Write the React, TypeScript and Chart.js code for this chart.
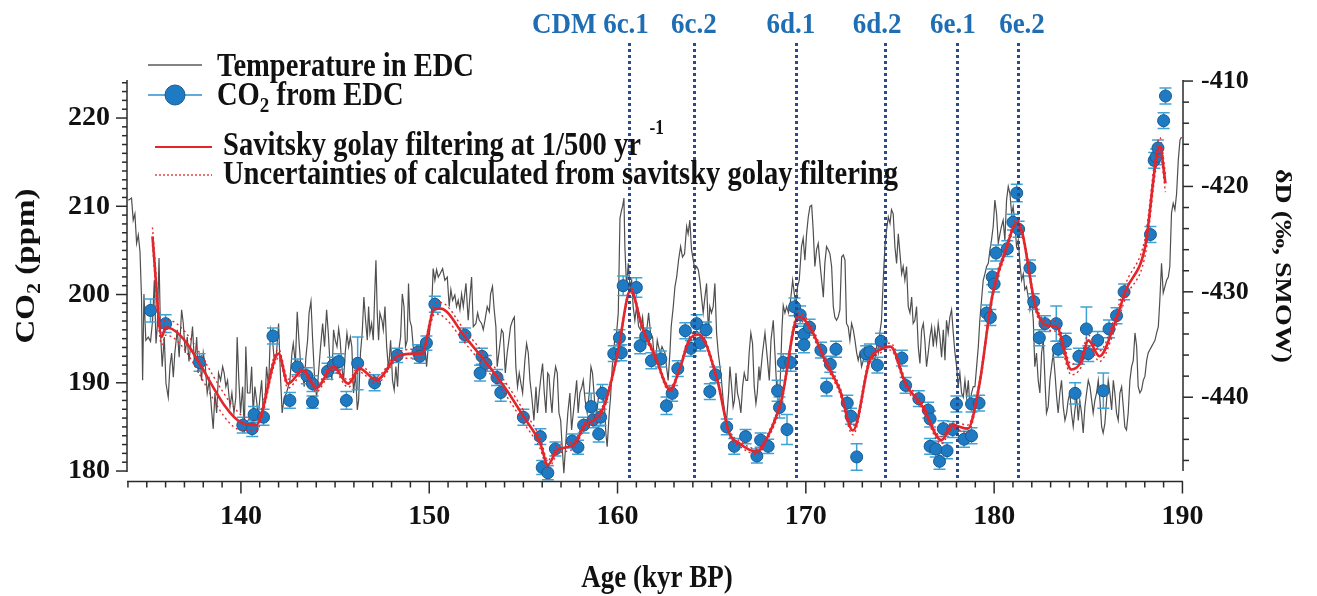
import React, { useEffect, useRef } from 'react';
import { Chart, registerables } from 'chart.js';

Chart.register(...registerables);

// ---------- DATA ----------
// Temperature proxy (deltaD, permil SMOW) from EDC: [age kyr BP, dD]
const TEMP_SERIES: [number, number][] = [
  [134.02,-421.3],[134.19,-421.1],[134.28,-423.2],[134.37,-422.6],[134.46,-425.4],[134.55,-424.6],[134.64,-426.2],[134.72,-430.5],[134.78,-438.4],[134.85,-430.2],
  [134.95,-434.6],[135.08,-434.3],[135.2,-434.7],[135.31,-432.7],[135.4,-428.9],[135.49,-434.9],[135.56,-433.3],[135.65,-426.8],[135.73,-433.9],[135.82,-437.1],
  [135.93,-434.3],[136.02,-438.7],[136.14,-440.0],[136.23,-437.1],[136.32,-435.8],[136.41,-438.1],[136.49,-435.8],[136.62,-433.6],[136.72,-436.2],[136.85,-431.7],
  [136.94,-433.0],[137.04,-435.8],[137.15,-434.3],[137.24,-436.6],[137.33,-435.2],[137.43,-433.3],[137.54,-437.1],[137.65,-434.3],[137.73,-437.7],[137.82,-436.2],
  [137.91,-438.4],[138.0,-435.8],[138.11,-437.1],[138.21,-439.6],[138.32,-438.4],[138.44,-441.2],[138.53,-443.0],[138.62,-439.6],[138.71,-441.5],[138.81,-437.7],
  [138.92,-438.4],[139.03,-437.1],[139.11,-437.7],[139.2,-439.0],[139.29,-438.4],[139.42,-440.9],[139.52,-439.6],[139.63,-441.5],[139.73,-440.0],[139.8,-434.3],
  [139.89,-438.4],[139.98,-441.5],[140.09,-439.0],[140.18,-443.4],[140.26,-435.2],[140.35,-439.6],[140.48,-439.6],[140.57,-437.1],[140.65,-441.5],[140.74,-439.0],
  [140.83,-440.3],[140.92,-441.9],[141.01,-440.0],[141.1,-438.4],[141.19,-441.5],[141.29,-440.0],[141.36,-437.1],[141.47,-439.0],[141.57,-433.6],[141.68,-434.6],
  [141.77,-436.5],[141.89,-435.8],[142.0,-433.0],[142.11,-438.4],[142.19,-441.5],[142.3,-440.0],[142.42,-439.6],[142.51,-439.0],[142.6,-438.4],[142.71,-435.8],
  [142.78,-434.9],[142.89,-436.8],[142.99,-431.9],[143.08,-434.6],[143.17,-436.8],[143.27,-437.7],[143.36,-439.0],[143.45,-436.2],[143.54,-434.6],[143.62,-432.0],
  [143.72,-430.9],[143.81,-434.6],[143.91,-438.1],[144.02,-440.0],[144.12,-437.7],[144.23,-435.2],[144.34,-433.0],[144.44,-435.2],[144.55,-431.7],[144.64,-433.9],
  [144.74,-437.1],[144.83,-438.4],[144.92,-433.6],[145.01,-434.6],[145.1,-435.2],[145.19,-433.5],[145.27,-434.6],[145.36,-437.1],[145.45,-438.4],[145.54,-435.8],
  [145.63,-433.9],[145.72,-435.2],[145.81,-434.3],[145.89,-435.2],[145.98,-439.6],[146.09,-437.7],[146.18,-441.2],[146.25,-440.3],[146.35,-435.8],[146.44,-433.9],
  [146.53,-430.5],[146.62,-432.7],[146.71,-434.6],[146.78,-431.4],[146.85,-433.9],[146.94,-433.0],[147.03,-434.6],[147.1,-430.5],[147.17,-427.0],[147.24,-432.0],
  [147.31,-434.6],[147.38,-432.0],[147.49,-432.7],[147.56,-433.6],[147.65,-431.4],[147.74,-435.2],[147.84,-437.4],[147.95,-434.6],[148.05,-438.4],[148.14,-439.3],
  [148.23,-437.1],[148.32,-439.0],[148.41,-435.2],[148.48,-434.3],[148.57,-430.2],[148.66,-431.4],[148.74,-435.2],[148.83,-434.6],[148.9,-429.2],[148.97,-432.7],
  [149.06,-433.3],[149.15,-435.2],[149.24,-435.8],[149.33,-435.2],[149.42,-435.8],[149.51,-435.2],[149.61,-434.6],[149.68,-435.8],[149.77,-435.2],[149.86,-437.1],
  [149.95,-435.2],[150.04,-433.3],[150.12,-432.0],[150.21,-427.8],[150.3,-428.9],[150.39,-427.9],[150.48,-428.6],
  [150.57,-428.3],[150.71,-427.8],[150.83,-428.9],[150.96,-428.6],[151.06,-431.4],[151.15,-429.8],[151.24,-430.8],[151.36,-430.3],[151.45,-431.4],[151.54,-430.8],
  [151.63,-431.7],[151.72,-430.2],[151.81,-431.4],[151.95,-429.2],[152.07,-432.7],[152.16,-430.5],[152.25,-428.6],[152.34,-433.3],[152.48,-433.0],[152.57,-432.0],
  [152.66,-432.7],[152.78,-433.0],[152.87,-433.6],[152.96,-432.7],[153.08,-431.4],[153.19,-431.9],[153.26,-430.2],[153.36,-429.5],[153.45,-431.7],[153.54,-433.3],
  [153.61,-437.1],[153.72,-435.5],[153.84,-433.6],[153.93,-433.9],[154.04,-437.7],[154.14,-435.8],[154.23,-434.6],[154.32,-433.3],[154.43,-432.7],[154.52,-432.4],
  [154.6,-437.1],[154.69,-439.0],[154.78,-437.7],[154.87,-438.7],[154.96,-439.6],[155.08,-436.5],[155.17,-434.9],[155.26,-435.8],[155.35,-438.4],[155.45,-440.0],
  [155.56,-442.2],[155.67,-439.0],[155.75,-441.5],[155.84,-439.6],[155.93,-438.1],[156.02,-436.8],[156.11,-439.6],[156.2,-441.5],[156.29,-437.7],[156.36,-437.9],
  [156.44,-440.0],[156.52,-441.5],[156.62,-438.4],[156.71,-437.1],[156.8,-437.7],[156.89,-441.5],[156.98,-442.2],[157.06,-444.7],[157.15,-447.2],[157.26,-444.1],
  [157.36,-441.5],[157.47,-439.6],[157.56,-443.1],[157.65,-441.5],[157.74,-440.0],[157.83,-438.4],[157.91,-441.5],[158.0,-439.6],[158.11,-439.0],[158.18,-438.4],
  [158.28,-440.3],[158.39,-441.5],[158.5,-439.6],[158.59,-437.1],[158.67,-437.7],[158.78,-440.3],[158.89,-441.5],[158.99,-440.0],[159.1,-439.0],[159.21,-439.6],
  [159.31,-440.9],[159.38,-443.4],[159.45,-444.7],[159.56,-441.5],[159.63,-440.0],[159.72,-437.1],[159.77,-436.2],[159.86,-434.3],[159.95,-433.9],[160.04,-432.0],
  [160.13,-423.0],[160.22,-422.2],[160.27,-421.9],[160.34,-421.1],[160.39,-425.7],[160.48,-429.5],[160.57,-427.3],[160.66,-429.5],[160.75,-428.9],[160.83,-431.4],
  [160.92,-432.7],[161.01,-431.4],[161.12,-433.3],[161.22,-433.6],[161.33,-432.4],[161.44,-434.6],[161.54,-433.9],[161.65,-432.0],[161.75,-433.9],[161.86,-434.3],
  [161.93,-435.8],[162.04,-436.2],[162.11,-434.6],[162.18,-435.2],[162.27,-435.8],[162.36,-435.2],[162.43,-435.5],[162.52,-435.8],[162.6,-437.1],[162.69,-438.4],
  [162.78,-435.8],[162.85,-433.3],[162.96,-431.4],[163.05,-429.5],[163.14,-428.6],[163.24,-427.0],[163.35,-425.7],[163.45,-426.7],[163.56,-426.4],[163.67,-423.8],
  [163.75,-424.5],[163.84,-423.2],[163.93,-426.0],[164.02,-427.0],[164.11,-427.9],[164.2,-427.6],[164.29,-427.9],[164.37,-428.9],[164.46,-430.5],[164.55,-432.0],
  [164.64,-430.5],[164.73,-429.2],[164.83,-433.9],[164.9,-431.4],[164.99,-432.0],[165.08,-431.4],[165.17,-429.2],[165.26,-433.9],[165.35,-435.8],[165.44,-437.1],
  [165.52,-438.4],[165.61,-440.3],[165.7,-441.5],[165.79,-442.2],[165.9,-439.6],[165.97,-437.1],[166.06,-439.0],[166.14,-440.9],[166.21,-440.3],[166.29,-437.7],
  [166.37,-439.6],[166.46,-440.3],[166.55,-441.5],[166.64,-439.0],[166.73,-437.7],[166.82,-438.4],[166.91,-438.4],[166.99,-435.8],[167.08,-433.9],[167.17,-434.9],
  [167.26,-439.0],[167.35,-440.6],[167.42,-439.6],[167.51,-437.1],
  [167.56,-438.4],[167.7,-435.8],[167.83,-433.9],[167.95,-436.2],[168.06,-438.4],[168.15,-434.6],[168.27,-432.7],[168.36,-435.8],[168.45,-439.0],[168.54,-440.9],
  [168.62,-439.6],[168.73,-433.6],[168.8,-431.3],[168.89,-432.0],[168.98,-431.4],[169.08,-432.0],[169.19,-430.8],[169.3,-428.9],[169.39,-430.2],[169.47,-431.4],
  [169.56,-429.5],[169.65,-428.9],[169.77,-425.7],[169.86,-424.9],[169.95,-427.0],[170.04,-424.5],[170.13,-422.9],[170.22,-421.9],[170.31,-421.8],[170.39,-424.1],
  [170.48,-427.6],[170.57,-426.0],[170.66,-425.4],[170.75,-427.3],[170.84,-428.9],[170.93,-430.5],[171.01,-427.3],[171.1,-425.7],[171.19,-426.0],[171.28,-426.4],
  [171.37,-427.6],[171.46,-431.4],[171.54,-432.4],[171.63,-432.7],[171.72,-432.4],[171.81,-431.7],[171.9,-426.7],[171.99,-426.5],[172.08,-427.0],[172.16,-433.0],
  [172.25,-433.3],[172.34,-434.6],[172.43,-433.0],[172.52,-433.6],[172.61,-434.6],[172.7,-435.8],[172.78,-436.5],[172.87,-435.8],[172.96,-437.1],[173.05,-436.5],
  [173.14,-435.2],[173.23,-435.8],[173.31,-437.1],[173.4,-436.5],[173.49,-435.2],[173.58,-436.2],[173.67,-436.5],[173.76,-435.2],[173.85,-435.8],[173.93,-433.9],
  [174.02,-432.7],[174.11,-428.9],[174.2,-425.7],[174.29,-424.1],[174.38,-422.9],[174.47,-423.5],[174.55,-422.2],[174.64,-422.6],[174.73,-425.7],[174.82,-427.3],
  [174.91,-424.5],[175.0,-426.4],[175.09,-428.3],[175.17,-427.6],[175.26,-428.9],[175.35,-427.6],[175.44,-431.4],[175.53,-432.0],[175.62,-430.5],[175.7,-433.0],
  [175.79,-432.7],[175.88,-431.4],[175.97,-435.2],[176.06,-436.8],[176.15,-433.6],[176.24,-433.0],[176.32,-434.6],[176.41,-437.1],[176.5,-435.8],[176.59,-434.3],
  [176.68,-433.3],[176.77,-435.2],[176.85,-433.6],[176.94,-434.9],[177.03,-433.0],[177.12,-434.3],[177.21,-436.2],[177.3,-433.6],[177.39,-436.5],[177.47,-432.7],
  [177.56,-433.9],[177.65,-432.4],[177.74,-431.7],[177.83,-433.9],[177.92,-435.8],[178.01,-437.1],[178.09,-439.0],[178.18,-437.7],[178.27,-439.6],[178.36,-440.0],
  [178.45,-438.4],[178.54,-440.0],[178.63,-438.4],[178.71,-440.9],[178.8,-439.6],[178.89,-439.0],[178.98,-439.0],[179.07,-437.1],[179.16,-435.2],[179.24,-432.7],
  [179.33,-430.8],[179.42,-428.9],[179.51,-428.3],[179.6,-427.6],[179.69,-427.3],[179.78,-426.0],[179.86,-425.1],[179.95,-423.8],[180.04,-421.3],[180.13,-422.6],
  [180.22,-425.4],[180.31,-424.5],[180.39,-423.8],[180.48,-423.2],[180.57,-425.1],[180.66,-421.3],[180.75,-420.0],[180.84,-420.7],[180.93,-422.6],[181.01,-421.9],
  [181.1,-423.5],[181.19,-425.7],[181.28,-425.1],[181.37,-427.3],[181.46,-428.9],[181.55,-428.3],[181.63,-429.8],[181.72,-429.5],[181.81,-430.5],[181.9,-431.7],
  [181.99,-430.8],[182.08,-432.7],[182.16,-437.1],[182.25,-435.8],[182.34,-438.4],[182.43,-439.6],[182.52,-435.8],[182.61,-434.6],[182.7,-438.4],[182.78,-441.5],
  [182.87,-440.9],[182.96,-438.4],[183.05,-437.1],[183.14,-435.8],[183.23,-437.7],[183.32,-440.0],[183.4,-441.5],[183.49,-439.6],[183.58,-438.4],[183.67,-440.9],
  [183.76,-442.2],[183.85,-441.5],[183.93,-440.3],[184.02,-439.6],[184.11,-441.5],[184.2,-442.8],[184.29,-441.2],[184.38,-440.0],[184.47,-442.2],[184.55,-440.3],
  [184.64,-441.5],[184.73,-443.4],[184.82,-440.9],[184.91,-439.6],[185.0,-438.4],[185.09,-439.0],
  [185.18,-440.3],[185.26,-441.5],[185.35,-440.3],[185.44,-439.6],[185.53,-438.4],[185.62,-440.3],[185.71,-442.8],[185.79,-443.4],[185.88,-442.5],[185.97,-440.3],
  [186.06,-438.4],[186.15,-439.6],[186.24,-441.2],[186.33,-438.4],[186.41,-439.6],[186.5,-441.5],[186.59,-442.2],[186.68,-439.6],[186.77,-439.0],[186.86,-440.9],
  [186.94,-442.8],[187.03,-443.1],[187.12,-441.5],[187.21,-438.4],[187.3,-437.1],[187.39,-436.5],[187.48,-433.9],[187.57,-435.2],[187.65,-439.0],[187.74,-439.6],
  [187.83,-439.3],[187.92,-438.4],[188.01,-438.0],[188.1,-436.5],[188.18,-435.8],[188.27,-435.5],[188.36,-435.2],[188.45,-434.9],[188.54,-434.6],[188.63,-433.9],
  [188.72,-433.3],[188.8,-430.8],[188.89,-427.3],[188.98,-430.1],[189.07,-429.5],[189.16,-428.9],[189.25,-428.6],[189.33,-427.6],[189.42,-422.5],[189.51,-421.6],
  [189.6,-422.2],[189.69,-420.7],[189.78,-417.5],[189.87,-415.6],[189.95,-415.3]
];

// CO2 from EDC: [age kyr BP, CO2 ppm, error ppm]
const CO2_POINTS: [number, number, number][] = [
  [135.2,198.2,1.3],[136.0,196.7,1.0],[137.8,192.3,1.0],[140.1,185.2,0.9],[140.6,184.8,0.9],[140.7,186.4,0.9],[141.2,186.1,0.9],[141.7,195.3,0.9],
  [142.6,188.0,0.9],[143.0,191.8,0.9],[143.5,190.8,0.9],[143.8,189.9,0.9],[143.8,187.8,0.7],[144.6,191.3,0.9],[144.9,192.0,0.9],[145.2,192.4,0.9],
  [145.6,188.0,1.0],[146.2,192.2,3.0],[147.1,190.0,0.9],[148.3,193.1,0.8],[149.4,193.5,0.8],[149.5,193.0,0.8],[149.85,194.5,0.8],[150.3,198.9,0.9],
  [151.9,195.4,0.8],[152.7,191.1,0.9],[152.8,193.0,0.9],[153.0,192.2,0.9],[153.6,190.6,0.9],[153.8,188.9,1.0],[155.0,186.1,0.9],[155.9,183.9,0.9],
  [156.0,180.4,0.8],[156.3,179.8,0.8],[156.7,182.5,0.8],[157.6,183.4,0.8],[157.9,182.7,0.8],[158.2,185.2,0.9],[158.6,187.3,1.5],[158.7,185.8,0.9],
  [159.0,184.2,0.9],[159.1,186.1,0.9],[159.2,188.8,1.0],[159.8,193.3,0.9],[160.1,195.1,0.9],[160.2,193.4,0.9],[160.3,201.0,1.1],[161.0,200.8,1.1],
  [161.2,194.2,0.9],[161.5,195.3,0.9],[161.8,192.5,0.9],[162.3,192.7,0.9],[162.6,187.4,1.0],[162.9,188.8,0.9],[163.2,191.6,0.9],[163.6,195.9,0.9],
  [163.9,193.9,0.9],[164.2,196.7,1.0],[164.4,194.5,0.9],[164.7,196.0,0.9],[164.9,189.0,0.9],[165.2,190.9,0.9],[165.8,185.0,0.9],[166.2,182.8,0.9],
  [166.8,183.9,0.8],[167.4,181.7,0.8],[167.6,183.5,0.8],[168.0,182.8,0.8],[168.5,189.1,1.2],[168.6,187.2,1.2],[168.8,192.3,1.0],[169.0,184.7,1.7],
  [169.2,192.3,1.0],[169.4,198.6,1.0],[169.7,197.7,1.0],[169.9,195.5,0.9],[169.9,194.3,0.9],[170.2,196.3,0.9],[170.8,193.7,0.9],[171.1,189.5,1.0],
  [171.3,192.1,0.9],[171.6,193.8,0.9],[172.2,187.7,0.9],[172.4,186.2,0.9],[172.7,181.6,1.5],[173.2,193.3,0.9],[173.4,193.5,0.9],[173.8,192.0,0.9],
  [174.0,194.7,0.9],[175.1,192.8,0.9],[175.3,189.7,0.9],[176.0,188.2,0.9],[176.5,186.9,0.9],[176.6,185.9,0.9],[176.6,182.8,0.9],[176.9,182.5,0.9],
  [177.1,181.1,0.9],[177.3,184.8,0.9],[177.5,182.3,0.9],[177.8,184.7,0.9],[178.0,187.6,0.9],[178.4,183.6,0.9],[178.8,184.0,0.9],[178.8,187.6,0.9],
  [179.2,187.7,0.9],[179.6,197.9,0.9],[179.8,197.4,0.9],[179.9,202.0,0.9],[180.0,201.2,0.9],[180.1,204.7,0.9],[180.7,205.2,0.9],[181.0,208.2,0.9],
  [181.2,211.5,1.0],[181.3,207.4,0.9],[181.9,203.0,0.9],[182.1,199.2,0.9],[182.4,195.1,0.9],[182.7,196.7,0.9],[183.3,196.7,2.0],[183.4,193.8,0.9],
  [183.8,194.7,0.9],[184.3,188.8,1.2],[184.5,193.0,0.9],[184.9,196.1,2.5],[185.0,193.3,0.9],[185.5,194.8,1.0],[185.8,189.1,2.0],[186.1,196.1,1.0],
  [186.5,197.6,0.9],[186.9,200.3,0.9],[188.3,206.8,0.9],[188.5,215.2,0.9],[188.6,215.6,0.9],[188.7,216.6,0.9],[189.0,219.7,0.9],[189.1,222.5,0.9]
];

// Savitsky-Golay filtered CO2: [age, ppm, uncertainty]
const SG_SERIES: [number, number, number][] = [
  [135.3,206.6,1.0],[135.8,195.2,0.9],[136.0,196.3,0.9],[140.1,185.4,0.8],[140.8,185.2,0.6],[142.0,193.3,0.5],[142.5,189.9,0.5],[143.3,191.4,0.4],
  [144.0,189.4,0.4],[144.9,191.8,0.4],[145.7,189.9,0.4],[146.3,191.6,0.4],[147.2,190.3,0.4],[148.3,193.0,0.4],[149.2,193.3,0.5],[149.6,193.3,0.5],
  [150.3,198.4,0.6],[150.6,198.4,0.7],[151.9,195.2,0.7],[153.2,191.8,0.7],[154.1,189.2,0.7],[155.0,186.2,0.7],[155.9,183.1,0.6],[156.3,180.7,0.5],
  [156.8,182.4,0.5],[157.7,183.0,0.4],[158.2,185.0,0.4],[159.1,186.5,0.4],[159.5,188.8,0.4],[160.0,193.3,0.3],[160.7,200.5,0.3],[161.3,196.4,0.3],
  [162.0,193.0,0.3],[162.8,189.2,0.3],[163.3,191.6,0.3],[163.8,194.8,0.3],[164.3,195.5,0.3],[165.3,190.3,0.3],[165.9,184.5,0.3],[166.5,183.1,0.3],
  [167.4,182.2,0.3],[168.0,184.0,0.3],[168.7,188.0,0.4],[169.6,197.5,0.4],[170.2,196.4,0.4],[171.0,192.6,0.4],[171.8,189.2,0.4],[172.5,184.6,0.5],
  [173.4,192.6,0.4],[173.9,193.7,0.4],[174.5,194.1,0.4],[175.3,189.9,0.4],[176.2,187.3,0.4],[177.2,183.5,0.4],[177.8,185.2,0.4],[178.6,184.8,0.4],
  [179.2,189.6,0.4],[179.9,199.8,0.4],[180.6,204.9,0.4],[181.2,208.1,0.4],[181.5,206.9,0.4],[182.2,198.6,0.4],[182.8,196.5,0.5],[183.3,196.4,0.6],
  [184.1,191.5,0.6],[184.6,192.3,0.6],[185.0,194.8,0.6],[185.6,193.0,0.6],[186.4,196.7,0.7],[187.0,200.5,0.8],[188.0,205.2,1.0],[188.8,216.8,1.0],
  [189.1,212.6,1.0]
];

// CDM event markers
const CDM_LINE_AGES = [160.6, 164.05, 169.5, 174.2, 178.05, 181.25];
const CDM_LABEL_AGES = [160.45, 164.06, 169.21, 173.78, 177.81, 181.48];
const CDM_LABELS = ['6c.1', '6c.2', '6d.1', '6d.2', '6e.1', '6e.2'];
const CDM_PREFIX = 'CDM';

// Axis ticks / ranges
const X_TICKS = [140, 150, 160, 170, 180, 190];
const LEFT_TICKS = [180, 190, 200, 210, 220];
const RIGHT_TICKS = [-410, -420, -430, -440];
const X_RANGE = [133.95, 190.03];
const LEFT_RANGE = [178.87, 224.31];
const RIGHT_RANGE = [-447.95, -409.9];

// Texts
const LEGEND_TEMP = 'Temperature in EDC';
const LEGEND_SG = 'Savitsky golay filtering at 1/500 yr';
const LEGEND_UNC = 'Uncertainties of calculated from savitsky golay filtering';
const X_TITLE = 'Age (kyr BP)';
const RIGHT_TITLE = 'δD (‰, SMOW)';

// ---------- STYLE ----------
const SERIF = '"Liberation Serif", "Times New Roman", serif';
const GRAY = '#4f4f4f';
const RED = '#e3262b';
const BLUE_FILL = '#1e7bc3';
const BLUE_EDGE = '#1a5a8e';
const BLUE_BAR = '#3fa2d6';
const NAVY = '#2c4a8a';
const LABEL_BLUE = '#1f6eb4';
const INK = '#111111';
const LEGEND_SX = 0.865;

type Run = { t: string; size?: number; dy?: number };

function drawRuns(ctx: CanvasRenderingContext2D, runs: Run[], x: number, y: number, base: number, sx: number, color: string, align: 'left' | 'center' | 'right') {
  ctx.save();
  ctx.fillStyle = color;
  ctx.textBaseline = 'alphabetic';
  ctx.textAlign = 'left';
  const widths = runs.map((r) => {
    ctx.font = `bold ${r.size || base}px ${SERIF}`;
    return ctx.measureText(r.t).width * sx;
  });
  const total = widths.reduce((a, b) => a + b, 0);
  let cx = x;
  if (align === 'center') cx = x - total / 2;
  if (align === 'right') cx = x - total;
  runs.forEach((r, i) => {
    ctx.save();
    ctx.font = `bold ${r.size || base}px ${SERIF}`;
    ctx.translate(cx, y + (r.dy || 0));
    ctx.scale(sx, 1);
    ctx.fillText(r.t, 0, 0);
    ctx.restore();
    cx += widths[i];
  });
  ctx.restore();
  return total;
}

function seg(ctx: CanvasRenderingContext2D, x1: number, y1: number, x2: number, y2: number) {
  ctx.beginPath();
  ctx.moveTo(x1, y1);
  ctx.lineTo(x2, y2);
  ctx.stroke();
}

const CO2_INDEX = 1;

const decorPlugin = {
  id: 'decor',
  beforeDatasetDraw(chart: any, args: any) {
    if (args.index !== CO2_INDEX) return;
    const { ctx, chartArea } = chart;
    const xs = chart.scales.x;
    const ys = chart.scales.y;
    ctx.save();
    ctx.beginPath();
    ctx.rect(chartArea.left, chartArea.top, chartArea.right - chartArea.left, chartArea.bottom - chartArea.top);
    ctx.clip();
    ctx.strokeStyle = BLUE_BAR;
    ctx.lineWidth = 1.5;
    for (const [a, c, e] of CO2_POINTS) {
      const px = xs.getPixelForValue(a);
      const y1 = ys.getPixelForValue(c + e);
      const y2 = ys.getPixelForValue(c - e);
      ctx.beginPath();
      ctx.moveTo(px, y1); ctx.lineTo(px, y2);
      ctx.moveTo(px - 6, y1); ctx.lineTo(px + 6, y1);
      ctx.moveTo(px - 6, y2); ctx.lineTo(px + 6, y2);
      ctx.stroke();
    }
    ctx.restore();
  },
  afterDatasetsDraw(chart: any) {
    const { ctx, chartArea } = chart;
    const xs = chart.scales.x;
    ctx.save();
    ctx.strokeStyle = NAVY;
    ctx.lineWidth = 3;
    ctx.setLineDash([3, 3]);
    for (const a of CDM_LINE_AGES) {
      const px = Math.round(xs.getPixelForValue(a)) + 0.5;
      seg(ctx, px, 43, px, chartArea.bottom);
    }
    ctx.restore();
    CDM_LABELS.forEach((lab, i) => {
      const cx = xs.getPixelForValue(CDM_LABEL_AGES[i]);
      const w = drawRuns(ctx, [{ t: lab }], cx, 33, 30, 0.9, LABEL_BLUE, 'center');
      if (i === 0) drawRuns(ctx, [{ t: CDM_PREFIX + ' ' }], cx - w / 2, 33, 30, 0.9, LABEL_BLUE, 'right');
    });
  },
  afterDraw(chart: any) {
    const { ctx, chartArea } = chart;
    const xs = chart.scales.x;
    const ys = chart.scales.y;
    const y2s = chart.scales.y2;
    ctx.save();
    ctx.strokeStyle = '#2a2a2a';
    ctx.lineWidth = 1.5;
    // bottom axis
    const yb = chartArea.bottom + 0.5;
    seg(ctx, chartArea.left, yb, chartArea.right, yb);
    for (let v = 134; v <= 190; v++) {
      const px = xs.getPixelForValue(v);
      seg(ctx, px, yb, px, yb + (v % 10 === 0 ? 12 : 6));
    }
    // left axis
    const xl = chartArea.left;
    seg(ctx, xl, chartArea.top, xl, ys.getPixelForValue(180) + 1);
    for (let v = 180; v <= 224; v++) {
      const py = ys.getPixelForValue(v);
      seg(ctx, xl, py, xl - (v % 10 === 0 ? 11 : 5), py);
    }
    // right axis
    const xr = chartArea.right;
    seg(ctx, xr, chartArea.top, xr, y2s.getPixelForValue(-447));
    for (let v = -410; v >= -446; v -= 2) {
      const py = y2s.getPixelForValue(v);
      seg(ctx, xr, py, xr + (v % 10 === 0 ? 10 : 6), py);
    }
    ctx.restore();

    // axis titles
    ctx.save();
    ctx.translate(34, 266);
    ctx.rotate(-Math.PI / 2);
    ctx.scale(1, 0.85);
    drawRuns(ctx, [{ t: 'CO' }, { t: '2', size: 22, dy: 7 }, { t: ' (ppm)' }], 0, 0, 33, 1, INK, 'center');
    ctx.restore();

    ctx.save();
    ctx.translate(1276, 266);
    ctx.rotate(Math.PI / 2);
    ctx.scale(1, 0.85);
    drawRuns(ctx, [{ t: RIGHT_TITLE }], 0, 0, 28, 1, INK, 'center');
    ctx.restore();

    drawRuns(ctx, [{ t: X_TITLE }], 657, 587, 31, 0.87, INK, 'center');

    // legend
    ctx.save();
    ctx.strokeStyle = '#5a5a5a';
    ctx.lineWidth = 1.5;
    seg(ctx, 148, 65, 202, 65);
    ctx.strokeStyle = '#2d8fd0';
    seg(ctx, 148, 95, 202, 95);
    ctx.beginPath();
    ctx.arc(175, 95, 10, 0, Math.PI * 2);
    ctx.fillStyle = BLUE_FILL;
    ctx.fill();
    ctx.strokeStyle = BLUE_EDGE;
    ctx.lineWidth = 1;
    ctx.stroke();
    ctx.strokeStyle = RED;
    ctx.lineWidth = 2;
    seg(ctx, 155, 147, 212, 147);
    ctx.lineWidth = 1.3;
    ctx.setLineDash([2, 2]);
    seg(ctx, 155, 175, 212, 175);
    ctx.restore();

    drawRuns(ctx, [{ t: LEGEND_TEMP }], 217, 76, 33, LEGEND_SX, INK, 'left');
    drawRuns(ctx, [{ t: 'CO' }, { t: '2', size: 22, dy: 7 }, { t: ' from EDC' }], 217, 105, 33, LEGEND_SX, INK, 'left');
    drawRuns(ctx, [{ t: LEGEND_SG }, { t: '  -1', size: 20, dy: -21 }], 223, 155, 33, LEGEND_SX, INK, 'left');
    drawRuns(ctx, [{ t: LEGEND_UNC }], 223, 184, 33, LEGEND_SX, INK, 'left');
  }
};

const tickFont = (size: number) => ({ family: SERIF, size, weight: 'bold' as const });

export default function App() {
  const ref = useRef<HTMLCanvasElement | null>(null);
  useEffect(() => {
    if (!ref.current) return;
    const sgUpper = SG_SERIES.map(([x, y, u]) => ({ x, y: y + u }));
    const sgLower = SG_SERIES.map(([x, y, u]) => ({ x, y: y - u }));
    const chart = new Chart(ref.current, {
      type: 'line',
      data: {
        datasets: [
          { label: LEGEND_TEMP, data: TEMP_SERIES.map(([x, y]) => ({ x, y })), yAxisID: 'y2', borderColor: GRAY, borderWidth: 1.2, pointRadius: 0, tension: 0, order: 5 } as any,
          { label: 'CO2 from EDC', data: CO2_POINTS.map(([x, y]) => ({ x, y })), yAxisID: 'y', showLine: false, pointRadius: 6, pointBackgroundColor: BLUE_FILL, pointBorderColor: BLUE_EDGE, pointBorderWidth: 1, order: 4 } as any,
          { label: 'upper', data: sgUpper, yAxisID: 'y', borderColor: RED, borderWidth: 1.4, borderDash: [2, 3], pointRadius: 0, cubicInterpolationMode: 'monotone', order: 3 } as any,
          { label: 'lower', data: sgLower, yAxisID: 'y', borderColor: RED, borderWidth: 1.4, borderDash: [2, 3], pointRadius: 0, cubicInterpolationMode: 'monotone', order: 3 } as any,
          { label: LEGEND_SG, data: SG_SERIES.map(([x, y]) => ({ x, y })), yAxisID: 'y', borderColor: RED, borderWidth: 2.6, pointRadius: 0, cubicInterpolationMode: 'monotone', order: 1 } as any
        ]
      },
      options: {
        animation: false,
        responsive: false,
        devicePixelRatio: 1,
        layout: { padding: { top: 80, left: 0, right: 0, bottom: 0 } },
        plugins: { legend: { display: false }, tooltip: { enabled: false } },
        scales: {
          x: {
            type: 'linear', position: 'bottom', min: X_RANGE[0], max: X_RANGE[1],
            grid: { display: false, drawTicks: false }, border: { display: false },
            ticks: { font: tickFont(28), color: INK, padding: 19, maxRotation: 0, autoSkip: false },
            afterBuildTicks: (s: any) => { s.ticks = X_TICKS.map((v) => ({ value: v })); },
            afterFit: (s: any) => { s.height = 115; }
          },
          y: {
            type: 'linear', position: 'left', min: LEFT_RANGE[0], max: LEFT_RANGE[1],
            grid: { display: false, drawTicks: false }, border: { display: false },
            ticks: { font: tickFont(28), color: INK, padding: 17 },
            afterBuildTicks: (s: any) => { s.ticks = LEFT_TICKS.map((v) => ({ value: v })); },
            afterFit: (s: any) => { s.width = 127; }
          },
          y2: {
            type: 'linear', position: 'right', min: RIGHT_RANGE[0], max: RIGHT_RANGE[1],
            grid: { display: false, drawTicks: false }, border: { display: false },
            ticks: { font: tickFont(26), color: INK, padding: 18 },
            afterBuildTicks: (s: any) => { s.ticks = RIGHT_TICKS.map((v) => ({ value: v })); },
            afterFit: (s: any) => { s.width = 134; }
          }
        }
      } as any,
      plugins: [decorPlugin as any]
    });
    return () => chart.destroy();
  }, []);
  return (
    <div style={{ position: 'absolute', left: 0, top: 0, width: 1317, height: 596, background: '#ffffff' }}>
      <canvas ref={ref} width={1317} height={596} style={{ display: 'block', width: 1317, height: 596 }} />
    </div>
  );
}
